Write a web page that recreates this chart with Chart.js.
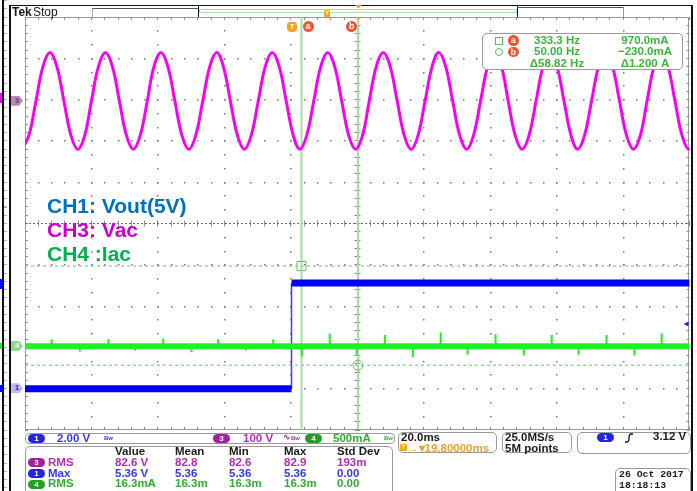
<!DOCTYPE html>
<html>
<head>
<meta charset="utf-8">
<title>Tek scope capture</title>
<script src="https://cdn.jsdelivr.net/npm/chart.js@4/dist/chart.umd.min.js"></script>
<style>
  body { margin: 0; background: #fff; }
  #scope { position: relative; width: 697px; height: 491px; overflow: hidden; background: #fff;
           font-family: "Liberation Sans", Arial, sans-serif; }
  #scope canvas { position: absolute; left: 0; top: 0; }
  .a    { position: absolute; white-space: nowrap; line-height: 1; }
  .ui   { font-size: 11.5px; font-weight: bold; }
  .blk  { position: absolute; background: #111; }
  .box  { position: absolute; border: 1px solid #9a9a9a; border-radius: 5px; background: #fff; box-sizing: border-box; }
  .pill { position: absolute; width: 17px; height: 9px; border-radius: 5px; color: #fff; text-align: center;
          font: bold 8px/9px "Liberation Sans", Arial, sans-serif; }
  .note { position: absolute; white-space: nowrap; font: bold 21px/21px "Liberation Sans", Arial, sans-serif; }
  .mark { position: absolute; width: 12px; height: 10px; text-align: center; font: bold 8px/10px "Liberation Sans", Arial, sans-serif;
          clip-path: polygon(0 0, 68% 0, 100% 50%, 68% 100%, 0 100%); }
  .cur  { position: absolute; width: 11px; height: 11px; border-radius: 50%; background: #f2542d; color: #fff;
          text-align: center; font: bold 9px/11px "Liberation Sans", Arial, sans-serif; }
  .c1 { color: #3636f0; } .c3 { color: #b52db5; } .c4 { color: #30ad30; } .cg { color: #3ab53a; } .ck { color: #1a1a1a; }
  .bw { font-size: 6px; }
</style>
</head>
<body>
<div id="scope">
  <canvas id="scope-canvas" width="697" height="491"></canvas>

  <!-- frame -->
  <div class="blk" style="left:2px;top:0;width:1.5px;height:491px"></div>
  <div style="position:absolute;left:4px;top:0;width:3px;height:491px;background:repeating-linear-gradient(#b0b0b0 0 1px, transparent 1px 8.26px)"></div>
  <div style="position:absolute;left:0;top:93px;width:2px;height:10px;background:#ff00ff"></div>
  <div style="position:absolute;left:0;top:279px;width:3px;height:10px;background:#0000ff"></div>
  <div style="position:absolute;left:0;top:343px;width:2px;height:6px;background:#22ee22"></div>
  <div style="position:absolute;left:0;top:385px;width:3px;height:7px;background:#0000ff"></div>
  <div class="blk" style="left:9px;top:4.5px;width:2px;height:487px"></div>
  <div class="blk" style="left:9px;top:4.5px;width:684px;height:1.5px"></div>
  <div class="blk" style="left:690.5px;top:4.5px;width:2.5px;height:487px"></div>

  <!-- header -->
  <div class="a ck" style="left:12px;top:6px;font-size:12px;font-weight:bold">Tek</div>
  <div class="a ck" style="left:33px;top:6px;font-size:12px">Stop</div>
  <div style="position:absolute;left:92px;top:7.5px;width:106px;height:10px;border-top:1px solid #555;border-left:1px solid #aaa"></div>
  <div class="blk" style="left:197.5px;top:5.5px;width:1.5px;height:11.5px"></div>
  <div style="position:absolute;left:199px;top:8.5px;width:318px;height:4px;border:1px solid #a6e0a6;box-sizing:border-box"></div>
  <div class="blk" style="left:516.5px;top:6px;width:1px;height:11px"></div>
  <div style="position:absolute;left:517px;top:6.5px;width:106px;height:10px;border-top:1px solid #555"></div>
  <div style="position:absolute;left:623px;top:6.5px;width:1px;height:10.5px;background:#999"></div>
  <div class="a" style="left:324px;top:10px;width:6px;height:6.5px;background:#f5a623;border-radius:1px;color:#fff;font:bold 6px/6.5px sans-serif;text-align:center">T</div>
  <div style="position:absolute;left:355px;top:5px;width:7px;height:3.5px;background:#f0a030;clip-path:polygon(0 0,100% 0,50% 100%)"></div>
  <div style="position:absolute;left:355.5px;top:17px;width:6px;height:3px;background:#f0a030;clip-path:polygon(0 0,100% 0,50% 100%)"></div>
  <div class="a" style="left:287px;top:21.5px;width:10px;height:10.5px;background:#f5a41e;border-radius:3px 3px 4px 4px;color:#fff;font:bold 8px/10.5px sans-serif;text-align:center">T</div>
  <div class="cur" style="left:302.5px;top:20.5px">a</div>
  <div class="cur" style="left:346.2px;top:20.5px">b</div>

  <!-- channel ground markers -->
  <div class="mark" style="left:11px;top:95.7px;background:#b98ab9;color:#6a3f6a">3</div>
  <div class="mark" style="left:11px;top:341px;background:#92d892;color:#e0ffe0">4</div>
  <div class="mark" style="left:11px;top:383.3px;background:#b9b9f5;color:#2828b0">1</div>
  <div style="position:absolute;left:683.5px;top:321.5px;width:5px;height:5px;background:#2020ff;clip-path:polygon(0 50%,100% 0,100% 100%)"></div>

  <!-- notes -->
  <div class="note" style="left:47px;top:195.2px;color:#0070c0">CH1: Vout(5V)</div>
  <div class="note" style="left:47px;top:219px;color:#cc00cc">CH3: Vac</div>
  <div class="note" style="left:47px;top:243.2px;color:#00b050">CH4 :Iac</div>

  <!-- cursor readout -->
  <div class="box" style="left:481.5px;top:33px;width:201.5px;height:37px"></div>
  <div style="position:absolute;left:495px;top:36.5px;width:8px;height:8px;border:1px solid #55bb55;box-sizing:border-box"></div>
  <div class="cur" style="left:508px;top:35px;width:10.5px;height:10.5px;line-height:10.5px">a</div>
  <div style="position:absolute;left:495px;top:48px;width:8px;height:8px;border:1px solid #55bb55;border-radius:50%;box-sizing:border-box"></div>
  <div class="cur" style="left:508px;top:46.7px;width:10.5px;height:10.5px;line-height:10.5px">b</div>
  <div class="a ui cg" style="left:517px;top:34.6px;width:80px;text-align:center">333.3 Hz</div>
  <div class="a ui cg" style="left:517px;top:46.3px;width:80px;text-align:center">50.00 Hz</div>
  <div class="a ui cg" style="left:517px;top:57.6px;width:80px;text-align:center">Δ58.82 Hz</div>
  <div class="a ui cg" style="left:605px;top:34.6px;width:80px;text-align:center">970.0mA</div>
  <div class="a ui cg" style="left:605px;top:46.3px;width:80px;text-align:center">−230.0mA</div>
  <div class="a ui cg" style="left:605px;top:57.6px;width:80px;text-align:center">Δ1.200 A</div>

  <!-- vertical settings bar -->
  <div class="box" style="left:25px;top:432.5px;width:370px;height:11.5px;border-radius:4px"></div>
  <div class="pill" style="left:28px;top:434px;background:#2424dd">1</div>
  <div class="a ui c1" style="left:57px;top:432.6px">2.00 V</div>
  <div class="a c1 bw" style="left:104px;top:435px;font-weight:bold">Bw</div>
  <div class="pill" style="left:213px;top:434px;background:#a020a0">3</div>
  <div class="a ui c3" style="left:243px;top:432.6px">100 V</div>
  <div class="a c3" style="left:283px;top:433px;font-size:9px;font-weight:bold">∿<span class="bw">Bw</span></div>
  <div class="pill" style="left:305px;top:434px;background:#1fa01f">4</div>
  <div class="a ui c4" style="left:333px;top:432.6px">500mA</div>
  <div class="a c4 bw" style="left:384px;top:435px;font-weight:bold">Bw</div>

  <!-- horizontal / acquisition / trigger -->
  <div class="box" style="left:398px;top:431.5px;width:98.5px;height:21.5px"></div>
  <div class="a ui ck" style="left:401px;top:431.6px">20.0ms</div>
  <div class="a" style="left:400px;top:444px;width:7px;height:7px;background:#f5a623;border-radius:1px;color:#fff;font:bold 6px/7px sans-serif;text-align:center">T</div>
  <div class="a ui" style="left:407px;top:442.6px;color:#f0a030">→▾19.80000ms</div>
  <div class="box" style="left:501.5px;top:431.5px;width:70px;height:21.5px"></div>
  <div class="a ui ck" style="left:505px;top:431.6px">25.0MS/s</div>
  <div class="a ui ck" style="left:505px;top:442.6px">5M points</div>
  <div class="box" style="left:576.5px;top:431.5px;width:114px;height:22.5px"></div>
  <div class="pill" style="left:597px;top:433px;background:#2424dd">1</div>
  <svg style="position:absolute;left:624px;top:432.5px" width="10" height="10"><path d="M1 9 H3 Q5 9 5 5 Q5 1 7 1 H9" stroke="#111" stroke-width="1.3" fill="none"/></svg>
  <div class="a ui ck" style="left:653px;top:431px">3.12 V</div>

  <!-- measurement table -->
  <div class="box" style="left:25px;top:445.5px;width:368px;height:52px"></div>
  <div class="a ui ck" style="left:115px;top:446px">Value</div>
  <div class="a ui ck" style="left:175px;top:446px">Mean</div>
  <div class="a ui ck" style="left:229px;top:446px">Min</div>
  <div class="a ui ck" style="left:284px;top:446px">Max</div>
  <div class="a ui ck" style="left:337px;top:446px">Std Dev</div>

  <div class="pill" style="left:28px;top:458.2px;background:#a020a0">3</div>
  <div class="a ui c3" style="left:48px;top:457px">RMS</div>
  <div class="a ui c3" style="left:115px;top:457px">82.6 V</div>
  <div class="a ui c3" style="left:175px;top:457px">82.8</div>
  <div class="a ui c3" style="left:229px;top:457px">82.6</div>
  <div class="a ui c3" style="left:284px;top:457px">82.9</div>
  <div class="a ui c3" style="left:337px;top:457px">193m</div>

  <div class="pill" style="left:28px;top:468.8px;background:#2424dd">1</div>
  <div class="a ui c1" style="left:48px;top:467.6px">Max</div>
  <div class="a ui c1" style="left:115px;top:467.6px">5.36 V</div>
  <div class="a ui c1" style="left:175px;top:467.6px">5.36</div>
  <div class="a ui c1" style="left:229px;top:467.6px">5.36</div>
  <div class="a ui c1" style="left:284px;top:467.6px">5.36</div>
  <div class="a ui c1" style="left:337px;top:467.6px">0.00</div>

  <div class="pill" style="left:28px;top:479.5px;background:#1fa01f">4</div>
  <div class="a ui c4" style="left:48px;top:478.3px">RMS</div>
  <div class="a ui c4" style="left:115px;top:478.3px">16.3mA</div>
  <div class="a ui c4" style="left:175px;top:478.3px">16.3m</div>
  <div class="a ui c4" style="left:229px;top:478.3px">16.3m</div>
  <div class="a ui c4" style="left:284px;top:478.3px">16.3m</div>
  <div class="a ui c4" style="left:337px;top:478.3px">0.00</div>

  <!-- date -->
  <div class="box" style="left:615px;top:468px;width:76px;height:30px"></div>
  <div class="a ck" style="left:619px;top:470px;font:bold 9.8px/9.8px 'Liberation Mono', monospace">26 Oct  2017</div>
  <div class="a ck" style="left:619px;top:480.5px;font:bold 9.8px/9.8px 'Liberation Mono', monospace">18:18:13</div>
</div>

<script>
/* time axis: 20 ms/div, trigger point 19.8 ms left of screen centre */
const TIME_MIN = -80.2;
const TIME_MAX = 119.8;
const MS_PER_DIV = 20;

/* channel vertical settings (units per div, position in div) */
const CH1_PER_DIV = 2,   CH1_POS = -4.0;    // V
const CH3_PER_DIV = 100, CH3_POS = 2.97;    // V
const CH4_PER_DIV = 0.5, CH4_POS = -2.97;   // A

/* CH3 Vac (V), read every 1/8 period */
const VAC_T = [-81.1, -79.0, -76.9, -74.8, -72.7, -70.6, -68.5, -66.4,
               -64.3, -62.2, -60.2, -58.1, -56.0, -53.9, -51.8, -49.7,
               -47.6, -45.5, -43.4, -41.4, -39.3, -37.2, -35.1, -33.0,
               -30.9, -28.8, -26.7, -24.6, -22.5, -20.5, -18.4, -16.3,
               -14.2, -12.1, -10.0, -7.9, -5.8, -3.7, -1.6, 0.5,
               2.5, 4.6, 6.7, 8.8, 10.9, 13.0, 15.1, 17.2,
               19.3, 21.4, 23.4, 25.5, 27.6, 29.7, 31.8, 33.9,
               36.0, 38.1, 40.2, 42.3, 44.3, 46.4, 48.5, 50.6,
               52.7, 54.8, 56.9, 59.0, 61.1, 63.2, 65.2, 67.3,
               69.4, 71.5, 73.6, 75.7, 77.8, 79.9, 82.0, 84.1,
               86.1, 88.2, 90.3, 92.4, 94.5, 96.6, 98.7, 100.8,
               102.9, 105.0, 107.0, 109.1, 111.2, 113.3, 115.4, 117.5,
               119.6, 121.7];
const VAC_V = [-117, -83, 0, 83, 117, 83, 0, -83,
               -117, -83, 0, 83, 117, 83, 0, -83,
               -117, -83, 0, 83, 117, 83, 0, -83,
               -117, -83, 0, 83, 117, 83, 0, -83,
               -117, -83, 0, 83, 117, 83, 0, -83,
               -117, -83, 0, 83, 117, 83, 0, -83,
               -117, -83, 0, 83, 117, 83, 0, -83,
               -117, -83, 0, 83, 117, 83, 0, -83,
               -117, -83, 0, 83, 117, 83, 0, -83,
               -117, -83, 0, 83, 117, 83, 0, -83,
               -117, -83, 0, 83, 117, 83, 0, -83,
               -117, -83, 0, 83, 117, 83, 0, -83,
               -117, -83];

/* CH1 Vout (V): low, rising edge at trigger, high */
const VOUT_T = [-80.2, 0, 0, 119.8];
const VOUT_V = [0, 0, 5.12, 5.12];

/* CH4 Iac (A): baseline plus the current spikes */
const IAC_T = [-80.2, 119.8];
const IAC_V = [0, 0];
const SPIKE_T = [-72.2, -63.7, -55.1, -47.1, -38.6, -30.1, -22.1, -13.7, -5.5,
                 3.1, 11.5, 19.6, 28.1, 36.5, 44.9, 53.0, 61.4, 69.9, 78.3, 86.4, 94.8, 103.2, 111.4];
const SPIKE_A = [0.08, -0.06, 0.08, -0.05, 0.09, -0.07, 0.08, -0.05, 0.08,
                 -0.12, 0.15, -0.10, 0.13, -0.13, 0.16, -0.10, 0.14, -0.11, 0.13, -0.10, 0.13, -0.11, 0.15];

/* cursors: a / b times (ms) and levels (A, on CH4) */
const CURSOR_T = [3.0, 20.0];
const CURSOR_I = [0.97, -0.23];

const pts = (xs, ys) => xs.map((x, i) => ({ x, y: ys[i] }));
const axisFor = (perDiv, pos) => ({ min: (-5 - pos) * perDiv, max: (5 - pos) * perDiv });

const vout = pts(VOUT_T, VOUT_V);

/* graticule: dotted division lines, frame, edge ticks and centre lines.
   Division positions come from the time axis and the CH4 axis. */
const graticule = {
  id: 'graticule',
  afterDraw(chart) {
    // drawn once more underneath via beforeDatasetsDraw; nothing here
  },
  beforeDatasetsDraw(chart) {
    const { ctx, chartArea: a, scales } = chart;
    const divX = d => scales.x.getPixelForValue(TIME_MIN + d * MS_PER_DIV);          // d = 0..10
    const divY = d => scales.y4.getPixelForValue((d - CH4_POS) * CH4_PER_DIV);       // d = -5..5
    const px = v => Math.floor(v) + 0.5;
    ctx.save();
    ctx.setLineDash([]);
    ctx.lineWidth = 1;

    // dotted division lines: dots every 1/5 div across, every 1/3 div down
    ctx.fillStyle = '#777777';
    for (let i = 1; i < 10; i++) {
      if (i === 5) continue;
      const x = Math.floor(divX(i));
      for (let j = 1; j < 30; j++) ctx.fillRect(x, Math.floor(divY(-5 + j / 3)), 1.5, 1.5);
    }
    for (let i = -4; i < 5; i++) {
      if (i === 0) continue;
      const y = Math.floor(divY(i));
      for (let j = 1; j < 50; j++) ctx.fillRect(Math.floor(divX(j / 5)), y, 1.5, 1.5);
    }

    ctx.strokeStyle = '#999999';
    ctx.strokeRect(px(a.left), px(a.top), Math.floor(a.right - a.left) - 1, Math.floor(a.bottom - a.top) - 1);

    const cx = px(divX(5)), cy = px(divY(0));
    ctx.strokeStyle = '#8c8c8c';
    ctx.beginPath();
    for (let k = 0; k <= 50; k++) {
      const x = px(divX(k / 5));
      ctx.moveTo(x, a.top); ctx.lineTo(x, a.top + 3);
      ctx.moveTo(x, a.bottom - 3); ctx.lineTo(x, a.bottom);
      ctx.moveTo(x, cy - 3); ctx.lineTo(x, cy + 3);
      const y = px(divY(-5 + k / 5));
      ctx.moveTo(a.left, y); ctx.lineTo(a.left + 3, y);
      ctx.moveTo(a.right - 3, y); ctx.lineTo(a.right, y);
      ctx.moveTo(cx - 3, y); ctx.lineTo(cx + 3, y);
    }
    ctx.stroke();

    ctx.strokeStyle = '#6a6a6a';
    ctx.setLineDash([2, 2]);
    ctx.beginPath();
    ctx.moveTo(cx, a.top); ctx.lineTo(cx, a.bottom);
    ctx.moveTo(a.left, cy); ctx.lineTo(a.right, cy);
    ctx.stroke();
    ctx.restore();
  }
};

new Chart(document.getElementById('scope-canvas'), {
  type: 'line',
  data: {
    datasets: [
      // cursor markers on top
      { data: pts(CURSOR_T, CURSOR_I), yAxisID: 'y4', showLine: false, order: 0,
        pointStyle: ['rect', 'circle'], pointRadius: [6.4, 5], borderColor: '#66c466',
        backgroundColor: 'rgba(0,0,0,0)', pointBorderWidth: 1 },
      // CH4
      { data: pts(IAC_T, IAC_V), yAxisID: 'y4', order: 1,
        borderColor: '#24ee24', borderWidth: 6, borderCapStyle: 'butt', pointRadius: 0 },
      { type: 'bar', data: pts(SPIKE_T, SPIKE_A), yAxisID: 'y4', order: 1,
        backgroundColor: '#24ee24', borderWidth: 0, barThickness: 1.4 },
      // CH1
      { data: vout.slice(0, 2), yAxisID: 'y1', order: 2,
        borderColor: '#0000f5', borderWidth: 7, borderCapStyle: 'butt', pointRadius: 0 },
      { data: vout.slice(2, 4), yAxisID: 'y1', order: 2,
        borderColor: '#0000f5', borderWidth: 7, borderCapStyle: 'butt', pointRadius: 0 },
      { data: vout.slice(1, 3), yAxisID: 'y1', order: 2,
        borderColor: '#3a3aff', borderWidth: 1.5, pointRadius: 0 },
      // CH3
      { data: pts(VAC_T, VAC_V), yAxisID: 'y3', order: 3,
        borderColor: '#f800f8', borderWidth: 3, tension: 0.4, pointRadius: 0 },
      // cursor lines
      { data: [{ x: CURSOR_T[0], y: -1 }, { x: CURSOR_T[0], y: 4 }], yAxisID: 'y4', order: 9,
        borderColor: '#a5dea5', borderWidth: 2, pointRadius: 0 },
      { data: [{ x: CURSOR_T[1], y: -1 }, { x: CURSOR_T[1], y: 4 }], yAxisID: 'y4', order: 9,
        borderColor: '#a5dea5', borderWidth: 2, pointRadius: 0 },
      { data: [{ x: TIME_MIN, y: CURSOR_I[0] }, { x: TIME_MAX, y: CURSOR_I[0] }], yAxisID: 'y4', order: 9,
        borderColor: '#66c466', borderWidth: 1, borderDash: [3, 3], pointRadius: 0 },
      { data: [{ x: TIME_MIN, y: CURSOR_I[1] }, { x: TIME_MAX, y: CURSOR_I[1] }], yAxisID: 'y4', order: 9,
        borderColor: '#66c466', borderWidth: 1, borderDash: [3, 3], pointRadius: 0 }
    ]
  },
  options: {
    responsive: false, animation: false, devicePixelRatio: 1,
    layout: { padding: { left: 25, top: 17, right: 7, bottom: 61 } },
    plugins: { legend: { display: false }, tooltip: { enabled: false } },
    scales: {
      x:  { type: 'linear', min: TIME_MIN, max: TIME_MAX, display: false, offset: false },
      y1: { type: 'linear', ...axisFor(CH1_PER_DIV, CH1_POS), display: false },
      y3: { type: 'linear', ...axisFor(CH3_PER_DIV, CH3_POS), display: false },
      y4: { type: 'linear', ...axisFor(CH4_PER_DIV, CH4_POS), display: false }
    }
  },
  plugins: [graticule]
});
</script>
</body>
</html>
